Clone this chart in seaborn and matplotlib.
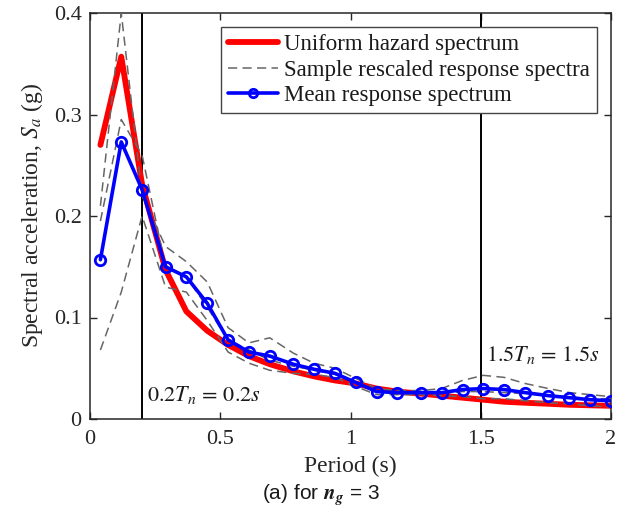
import matplotlib
matplotlib.use("Agg")
import matplotlib.pyplot as plt
import pandas as pd
import seaborn as sns
from matplotlib.lines import Line2D

# Periods (s) at which the spectra are evaluated
period = [0.04, 0.12, 0.20, 0.29, 0.37, 0.45, 0.53, 0.61, 0.69, 0.78, 0.86, 0.94, 1.02,
          1.10, 1.18, 1.27, 1.35, 1.43, 1.51, 1.59, 1.67, 1.76, 1.84, 1.92, 2.00]

# Uniform hazard spectrum (g)
uhs = [0.270, 0.357, 0.231, 0.147, 0.106, 0.087, 0.073, 0.062, 0.054, 0.047, 0.042, 0.038, 0.035,
       0.030, 0.027, 0.025, 0.023, 0.021, 0.019, 0.017, 0.016, 0.015, 0.014, 0.0135, 0.013]

# Rescaled response spectra of the three selected records (g)
sample_1 = [0.210, 0.400, 0.220, 0.170, 0.155, 0.135, 0.090, 0.075, 0.080, 0.065, 0.055, 0.050, 0.040,
            0.030, 0.028, 0.028, 0.030, 0.038, 0.043, 0.041, 0.035, 0.030, 0.026, 0.024, 0.022]
sample_2 = [0.195, 0.295, 0.260, 0.150, 0.140, 0.110, 0.078, 0.068, 0.058, 0.052, 0.048, 0.044, 0.036,
            0.027, 0.026, 0.026, 0.025, 0.027, 0.027, 0.026, 0.025, 0.023, 0.022, 0.020, 0.020]
sample_3 = [0.068, 0.125, 0.200, 0.130, 0.125, 0.097, 0.066, 0.055, 0.048, 0.045, 0.044, 0.041, 0.032,
            0.024, 0.024, 0.024, 0.023, 0.022, 0.020, 0.020, 0.018, 0.016, 0.015, 0.013, 0.012]

# Mean of the rescaled response spectra (g)
mean_spec = [0.157, 0.273, 0.226, 0.150, 0.140, 0.114, 0.078, 0.066, 0.062, 0.054, 0.049, 0.045, 0.036,
             0.027, 0.026, 0.026, 0.026, 0.029, 0.030, 0.029, 0.026, 0.023, 0.021, 0.019, 0.018]

xticks = [0, 0.5, 1, 1.5, 2]
xtick_labels = ["0", "0.5", "1", "1.5", "2"]
yticks = [0, 0.1, 0.2, 0.3, 0.4]
ytick_labels = ["0", "0.1", "0.2", "0.3", "0.4"]
period_bounds = [0.2, 1.5]

legend_labels = ["Uniform hazard spectrum", "Sample rescaled response spectra",
                 "Mean response spectrum"]

sns.set_theme(style="ticks")
plt.rcParams["font.family"] = ["Liberation Serif", "DejaVu Serif"]
plt.rcParams["mathtext.fontset"] = "stix"

RED = (1.0, 0.0, 0.0)
BLUE = (0.0, 0.0, 1.0)
GREY = (0.40, 0.40, 0.40)
DASH = (0, (6, 3.5))

fig = plt.figure(figsize=(6.27, 5.17), dpi=100)
ax = fig.add_axes([90 / 627, 1 - 419 / 517, (611 - 90) / 627, (419 - 13) / 517])

# Period range bounds
for tb in period_bounds:
    ax.axvline(tb, color="black", lw=1.4, zorder=1)

# Uniform hazard spectrum
sns.lineplot(x=period, y=uhs, color=RED, lw=4.2, ax=ax, zorder=2)

# Individual rescaled records
samples = pd.DataFrame({
    "period": period * 3,
    "sa": sample_1 + sample_2 + sample_3,
    "record": [1] * len(period) + [2] * len(period) + [3] * len(period),
})
sns.lineplot(data=samples, x="period", y="sa", units="record", estimator=None,
             color=GREY, lw=1.1, linestyle=DASH, ax=ax, legend=False, zorder=3)

# Mean spectrum with hollow circle markers
sns.lineplot(x=period, y=mean_spec, color=BLUE, lw=2.6, marker="o", markersize=7.5,
             markerfacecolor="none", markeredgecolor=BLUE, markeredgewidth=2.0,
             ax=ax, zorder=4)

ax.set_xlim(0, 2)
ax.set_ylim(0, 0.4)
ax.set_xticks(xticks)
ax.set_xticklabels(xtick_labels)
ax.set_yticks(yticks)
ax.set_yticklabels(ytick_labels)
ax.tick_params(direction="in", length=5, width=1.0, top=True, right=True,
               labelsize=16, colors="#262626")
ax.tick_params(axis="x", pad=8)
ax.tick_params(axis="y", pad=6)
for sp in ax.spines.values():
    sp.set_color("#262626")
    sp.set_linewidth(1.1)

ax.set_xlabel("Period (s)", fontsize=17, color="#262626", labelpad=5)
ax.set_ylabel(r"Spectral acceleration, $S_a$ (g)", fontsize=17, color="#262626", labelpad=6)

ax.text(0.22, 0.0177, r"$0.2T_n\,=\,0.2s$", fontsize=16, color="#1a1a1a", va="baseline")
ax.text(1.52, 0.057, r"$1.5T_n\,=\,1.5s$", fontsize=16, color="#1a1a1a", va="baseline")

handles = [
    Line2D([], [], color=RED, lw=4.2),
    Line2D([], [], color=GREY, lw=1.1, linestyle=DASH),
    Line2D([], [], color=BLUE, lw=2.6, marker="o", markersize=6,
           markerfacecolor="none", markeredgewidth=2.0),
]
leg = ax.legend(handles, legend_labels, loc="upper right", fontsize=16.5, frameon=True,
                fancybox=False, framealpha=1, edgecolor="#444444", handlelength=2.2,
                handletextpad=0.25, borderpad=0.3, labelspacing=0.2, borderaxespad=0.62)
leg.get_frame().set_linewidth(1.0)
for t in leg.get_texts():
    t.set_color("#1a1a1a")

fig.text(0.512, 1 - 495 / 517, r"(a) for $\mathbfit{n_g}$ = 3", ha="center", va="center",
         fontsize=15, family=["Liberation Sans", "DejaVu Sans"], color="#1a1a1a")

fig.savefig("out.png", dpi=100, facecolor="white")
